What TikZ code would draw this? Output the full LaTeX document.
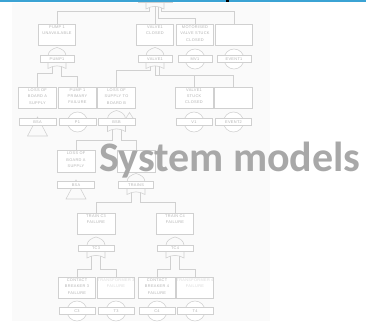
\documentclass[tikz,border=0pt]{standalone}
\usepackage{fontspec}
\setmainfont{Liberation Sans}
\newfontfamily\boxfont{Liberation Sans}[LetterSpace=8]
\newfontfamily\wmfont{Carlito}
\usetikzlibrary{calc}

\definecolor{barblue}{HTML}{3BA3D4}
\definecolor{ln}{HTML}{D0D0D0}
\definecolor{tx}{HTML}{B4B4B4}
\definecolor{txfaint}{HTML}{DADADA}
\definecolor{wmgrey}{HTML}{A8A8A8}
\definecolor{panel}{HTML}{FAFAFA}

% top-aligned text block inside an event box
\newcommand\bx[1]{\parbox[c][18pt][t]{37pt}{\centering #1}}

\tikzset{
  wire/.style={draw=ln, line width=0.55pt},
  evbox/.style={draw=ln, line width=0.55pt, fill=white, minimum width=37,
    minimum height=21, inner sep=0, text=tx,
    font=\boxfont\fontsize{3.9}{6.4}\selectfont},
  tag/.style={draw=ln, line width=0.55pt, fill=white, minimum width=34,
    minimum height=6.5, inner sep=0, text=tx,
    font=\boxfont\fontsize{3.9}{4}\selectfont},
  basic/.style={circle, draw=ln, line width=0.55pt, fill=white,
    minimum size=20, inner sep=0},
  % OR gate split by its tag: arch above, concave base below
  orgate/.pic={
    \draw[wire] (-9,-3.25) .. controls (-9,-8) and (-4,-10.5) .. (0,-11.5)
      .. controls (4,-10.5) and (9,-8) .. (9,-3.25);
    \draw[wire] (-9,3.25) -- (-9,9.5) .. controls (-3,6) and (3,6) .. (9,9.5) -- (9,3.25);
    \coordinate (-l) at (-4.5,7.5);
    \coordinate (-m) at (0,6.9);
    \coordinate (-r) at (4.5,7.5);
  },
  topgate/.pic={
    \draw[wire] (-9,3.25) -- (-9,9.5) .. controls (-3,6) and (3,6) .. (9,9.5) -- (9,3.25);
    \coordinate (-a) at (-6,8.1);
    \coordinate (-b) at (0,6.9);
    \coordinate (-c) at (3,7.2);
    \coordinate (-d) at (6,8.1);
  }
}

\begin{document}
\begin{tikzpicture}[x=1pt,y=-1pt]
\useasboundingbox (0,0) rectangle (366,321);
\fill[panel] (12,3) rectangle (270,321);

% ---- top event gate ----
\pic (gT) at (155,-0.5) {topgate};
\node[tag] (top) at (155,-0.5) {};

% ---- first level ----
\node[evbox] (A) at (57,34.5) {\bx{PUMP 1\\UNAVAILABLE}};
\node[evbox] (B) at (155,34.5) {\bx{VALVE1\\CLOSED}};
\node[evbox] (C) at (195,34.5) {\bx{MOTORISED\\VALVE STUCK\\CLOSED}};
\node[evbox] (D) at (234,34.5) {};

\pic (gA) at (57,59) {orgate};
\node[tag] (Al) at (57,59) {PUMP1};
\pic (gB) at (155,59) {orgate};
\node[tag] (Bl) at (155,59) {VALVE1};
\node[basic] (Cc) at (195,59) {};
\node[tag] (Cl) at (195,59) {MV1};
\node[basic] (Dc) at (234,59) {};
\node[tag] (Dl) at (234,59) {EVENT1};

% ---- second level ----
\node[evbox, minimum width=38] (E) at (37.5,97.5) {\bx{LOSS OF\\BOARD A\\SUPPLY}};
\node[evbox, minimum width=38] (F) at (77.5,97.5) {\bx{PUMP 1\\PRIMARY\\FAILURE}};
\node[evbox, minimum width=38] (G) at (116.5,97.5) {\bx{LOSS OF\\SUPPLY TO\\BOARD B}};
\node[evbox, minimum width=38] (H) at (194,97.5) {\bx{VALVE1\\STUCK\\CLOSED}};
\node[evbox, minimum width=38] (I) at (233.5,97.5) {};

\draw[wire] (37.5,117) -- (27.5,136) -- (47.5,136) -- cycle;
\node[tag, minimum width=37] (El) at (37.5,122) {BSA};
\node[basic] (Fc) at (77.5,122) {};
\node[tag, minimum width=37] (Fl) at (77.5,122) {P1};
\pic (gG) at (116.5,122) {orgate};
\draw[wire] (125.5,118.75) -- (129.5,112.5) -- (133.5,118.75) -- cycle;
\node[tag, minimum width=37] (Gl) at (116.5,122) {BSB};
\node[basic] (Hc) at (194,122) {};
\node[tag, minimum width=36] (Hl) at (194,122) {V1};
\node[basic] (Ic) at (233.5,122) {};
\node[tag, minimum width=36] (Il) at (233.5,122) {EVENT2};

% ---- third level ----
\node[evbox, minimum width=38, minimum height=22] (J) at (76,161) {\bx{LOSS OF\\BOARD A\\SUPPLY}};
\node[evbox, minimum width=38, minimum height=22] (K) at (136,161) {};

\draw[wire] (76,180) -- (66,199) -- (86,199) -- cycle;
\node[tag, minimum width=37] (Jl) at (76,185) {BSA};
\pic (gK) at (136,185) {orgate};
\node[tag, minimum width=35] (Kl) at (136,185) {TRAINS};

% ---- fourth level ----
\node[evbox, minimum width=38] (L) at (96,223.5) {\bx{TRAIN C3\\FAILURE}};
\node[evbox, minimum width=37] (M) at (175,223.5) {\bx{TRAIN C4\\FAILURE}};

\pic (gL) at (96,248.5) {orgate};
\node[tag, minimum width=36] (Ll) at (96,248.5) {TC3};
\pic (gM) at (175,248.5) {orgate};
\node[tag, minimum width=36] (Ml) at (175,248.5) {TC4};

% ---- basic events ----
\node[evbox] (N) at (77,287.5) {\bx{CONTACT\\BREAKER 3\\FAILURE}};
\node[evbox, text=txfaint] (O) at (116,287.5) {\bx{TRANSFORMER 3\\FAILURE}};
\node[evbox] (P) at (157,287.5) {\bx{CONTACT\\BREAKER 4\\FAILURE}};
\node[evbox, text=txfaint] (Q) at (195,287.5) {\bx{TRANSFORMER 4\\FAILURE}};

\node[basic] (Nc) at (77,311) {};
\node[tag, minimum width=36] (Nl) at (77,311) {C3};
\node[basic] (Oc) at (116,311) {};
\node[tag, minimum width=36] (Ol) at (116,311) {T3};
\node[basic] (Pc) at (157,311) {};
\node[tag, minimum width=36] (Pl) at (157,311) {C4};
\node[basic] (Qc) at (195,311) {};
\node[tag, minimum width=36] (Ql) at (195,311) {T4};

% ---- connectors ----
\draw[wire] (gT-a) -- ++(0,4) -| (A.north);
\draw[wire] (gT-b) -- (B.north);
\draw[wire] (gT-c) -- ++(0,12) -| (C.north);
\draw[wire] (gT-d) -- ++(0,4) -| (D.north);

\draw[wire] (gA-l) -- ++(0,7) -| (E.north);
\draw[wire] (gA-r) -- ++(0,10) -| (F.north);

\draw[wire] (gB-l) -- ++(0,3.5) -| (G.north);
\draw[wire] (gB-m) -- ++(0,9) -| (H.north);
\draw[wire] (gB-r) -- ++(0,8.5) -| (I.north);

\draw[wire] (gG-l) -- ++(0,10.5) -| (J.north);
\draw[wire] (gG-r) -- ++(0,10.5) -| (K.north);

\draw[wire] (gK-l) -- ++(0,9.5) -| (L.north);
\draw[wire] (gK-r) -- ++(0,9.5) -| (M.north);

\draw[wire] (gL-l) -- ++(0,13) -| (N.north);
\draw[wire] (gL-r) -- ++(0,13) -| (O.north);
\draw[wire] (gM-l) -- ++(0,13) -| (P.north);
\draw[wire] (gM-r) -- ++(0,13) -| (Q.north);

% ---- heading bar ----
\fill[barblue] (0,0) rectangle (225.5,2.2);
\fill[black] (225.5,0) rectangle (229,2.2);
\fill[barblue] (229,0) rectangle (366,2.2);

% ---- overlaid caption ----
\node[anchor=base west, inner sep=0, text=wmgrey,
  font=\wmfont\bfseries\fontsize{42}{42}\selectfont] (cap) at (99,171) {System models};
\end{tikzpicture}
\end{document}
